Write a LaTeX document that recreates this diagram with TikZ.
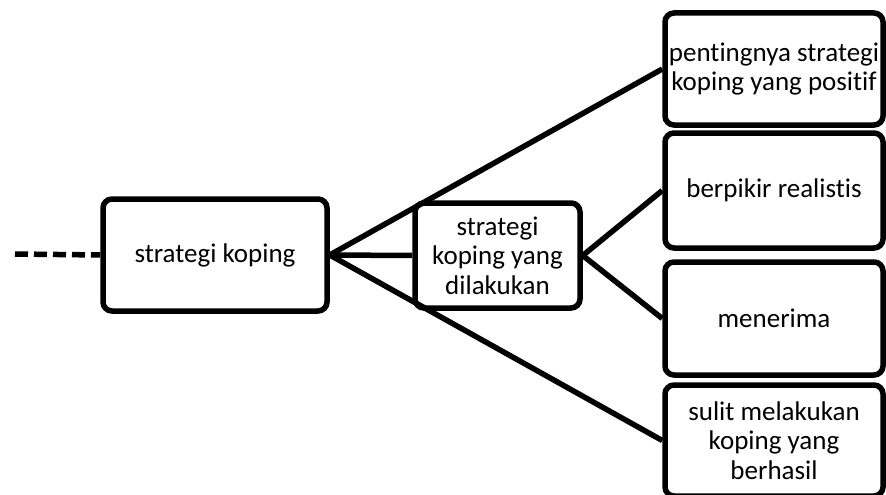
\documentclass[tikz,border=0pt]{standalone}
\usepackage{fontspec}
\setmainfont{Carlito}[RawFeature={-liga}]
\begin{document}
\begin{tikzpicture}[x=1pt,y=-1pt,
  box/.style={draw=black,line width=5.5pt,rounded corners=9pt,fill=white,
    align=center,inner sep=0pt,font=\fontsize{27}{29.5}\selectfont},
  link/.style={line width=5.5pt}]
\useasboundingbox (0,0) rectangle (886,495);
\begin{scope}
\clip (0,0) rectangle (886,495);
\node[box,minimum width=224pt,minimum height=112pt] (A) at (215,255) {strategi koping};
\node[box,minimum width=165pt,minimum height=105pt] (B) at (497.5,255.5) {strategi\\koping yang\\dilakukan};
\node[box,minimum width=218pt,minimum height=112pt] (C1) at (774,69) {pentingnya strategi\\koping yang positif};
\node[box,minimum width=218pt,minimum height=115pt] (C2) at (774,190.5) {berpikir realistis};
\node[box,minimum width=218pt,minimum height=113pt] (C3) at (774,318.5) {menerima};
\node[box,minimum width=218pt,minimum height=111pt] (C4) at (774,440.5) {sulit melakukan\\koping yang\\berhasil};
\coordinate (L) at (15,254);
\draw[link,dash pattern=on 13pt off 6pt] (L) -- (A.west);
\draw[link] (A.east) -- (C1.west);
\draw[link] (A.east) -- (B.west);
\draw[link] (A.east) -- (C4.west);
\draw[link] (B.east) -- (C2.west);
\draw[link] (B.east) -- (C3.west);
\end{scope}
\end{tikzpicture}
\end{document}
